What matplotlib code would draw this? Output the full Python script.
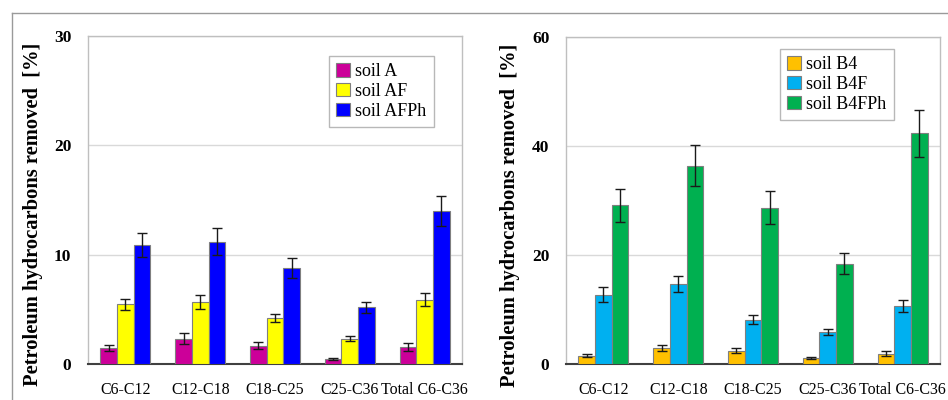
import matplotlib
matplotlib.use("Agg")
import matplotlib.pyplot as plt
import numpy as np

categories = ["C6-C12", "C12-C18", "C18-C25", "C25-C36", "Total C6-C36"]

# Left panel
soil_A = [1.47, 2.30, 1.69, 0.46, 1.56]
soil_A_err = [0.30, 0.50, 0.35, 0.10, 0.33]
soil_AF = [5.46, 5.67, 4.20, 2.33, 5.86]
soil_AF_err = [0.50, 0.60, 0.40, 0.27, 0.60]
soil_AFPh = [10.90, 11.20, 8.77, 5.20, 14.00]
soil_AFPh_err = [1.10, 1.20, 0.90, 0.50, 1.40]

# Right panel
soil_B4 = [1.54, 2.95, 2.46, 1.10, 1.90]
soil_B4_err = [0.30, 0.60, 0.50, 0.20, 0.40]
soil_B4F = [12.70, 14.65, 8.12, 5.85, 10.65]
soil_B4F_err = [1.35, 1.50, 0.85, 0.60, 1.15]
soil_B4FPh = [29.10, 36.40, 28.70, 18.40, 42.30]
soil_B4FPh_err = [3.00, 3.70, 3.00, 1.90, 4.30]

left_series = [("soil A", soil_A, soil_A_err, "#CC0099"),
               ("soil AF", soil_AF, soil_AF_err, "#FFFF00"),
               ("soil AFPh", soil_AFPh, soil_AFPh_err, "#0000FF")]
right_series = [("soil B4", soil_B4, soil_B4_err, "#FFC000"),
                ("soil B4F", soil_B4F, soil_B4F_err, "#00B0F0"),
                ("soil B4FPh", soil_B4FPh, soil_B4FPh_err, "#00B050")]

plt.rcParams['font.family'] = ['Liberation Serif', 'DejaVu Serif']

W, H = 948, 400
fig = plt.figure(figsize=(W / 100, H / 100), dpi=100)

def ax_rect(x0, y0, x1, y1):
    return [x0 / W, 1 - y1 / H, (x1 - x0) / W, (y1 - y0) / H]

ax1 = fig.add_axes(ax_rect(88, 36, 462, 364))
ax2 = fig.add_axes(ax_rect(566, 37, 940, 364))

x = np.arange(len(categories))
bw = 0.223

def draw(ax, series, ymax, yticks, legend_anchor, label_xy):
    for i, (name, vals, errs, col) in enumerate(series):
        ax.bar(x + (i - 1) * bw, vals, bw, color=col, edgecolor="#7f7f7f",
               linewidth=0.8, label=name, zorder=3,
               yerr=errs, error_kw=dict(ecolor="#1a1a1a", elinewidth=1.0,
                                        capsize=3.6, capthick=1.0, zorder=4))
    ax.set_xlim(-0.5, len(categories) - 0.5)
    ax.set_ylim(0, ymax)
    ax.set_yticks(yticks)
    ax.set_yticklabels([str(t) for t in yticks], fontweight="bold", fontsize=12.5)
    ax.set_xticks(x)
    ax.set_xticklabels(categories, fontsize=11.5)
    ax.tick_params(axis="both", length=0)
    ax.tick_params(axis="y", pad=12)
    ax.tick_params(axis="x", pad=13)
    ax.yaxis.grid(True, color="#d9d9d9", linewidth=1.0, zorder=0)
    ax.set_axisbelow(True)
    for s in ["top", "right", "left"]:
        ax.spines[s].set_color("#bfbfbf")
        ax.spines[s].set_linewidth(1.0)
    ax.spines["bottom"].set_color("#404040")
    ax.spines["bottom"].set_linewidth(1.5)
    ax.set_ylabel("Petroleum hydrocarbons removed  [%]", fontweight="bold",
                  fontsize=14.8)
    ax.yaxis.set_label_coords(*label_xy)
    leg = ax.legend(loc="upper left", bbox_to_anchor=legend_anchor,
                    fontsize=13, frameon=True, fancybox=False,
                    handlelength=0.75, handleheight=0.75, handletextpad=0.3,
                    labelspacing=0.15, borderpad=0.4, borderaxespad=0)
    leg.get_frame().set_edgecolor("#a6a6a6")
    leg.get_frame().set_linewidth(1.0)

draw(ax1, left_series, 30, [0, 10, 20, 30],
     ((329 - 88) / 374, 1 - (56 - 36) / 328),
     ((43 - 88) / 374, 1 - (214.5 - 36) / 328))
draw(ax2, right_series, 60, [0, 20, 40, 60],
     ((780 - 566) / 374, 1 - (49 - 37) / 327),
     ((520 - 566) / 374, 1 - (215.5 - 37) / 327))

# outer frame lines of the original figure
fig.add_artist(plt.Line2D([12 / W, 1], [1 - 13 / H, 1 - 13 / H], color="#9a9a9a", linewidth=1.0))
fig.add_artist(plt.Line2D([12 / W, 12 / W], [0, 1 - 13 / H], color="#9a9a9a", linewidth=1.0))

fig.savefig("out.png", dpi=100)
